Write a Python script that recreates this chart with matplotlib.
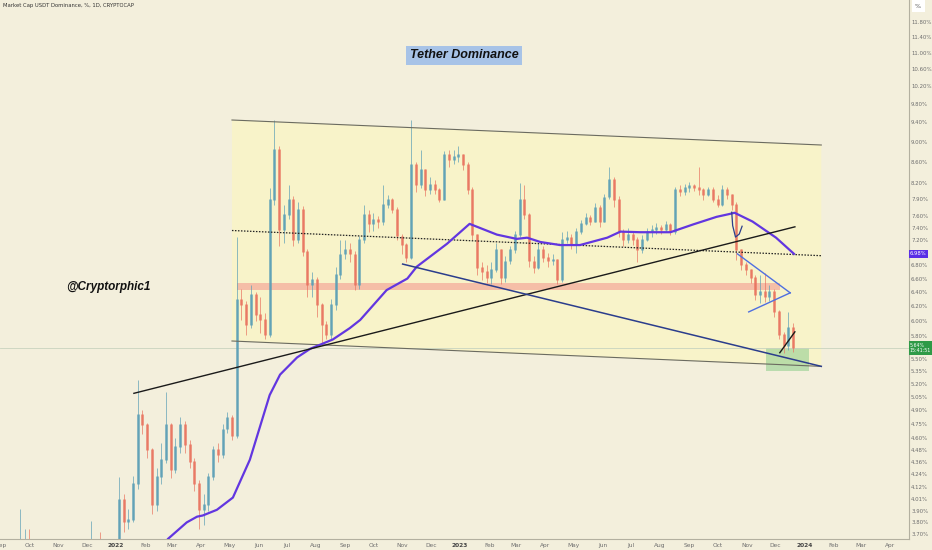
import matplotlib
matplotlib.use('Agg')
import matplotlib.pyplot as plt
import matplotlib.dates as mdates
from matplotlib.ticker import FixedLocator, NullLocator
import numpy as np
import pandas as pd

# 5-day candles of USDT dominance (%)
candle_start = '2021-09-01'
close = [
  3.45, 3.40, 3.38, 3.42, 3.55, 3.55, 3.50, 3.40, 3.30, 3.25, 3.22, 3.20, 3.18, 3.20, 3.22, 3.25, 3.28, 3.30, 3.45, 3.50, 3.45, 3.40, 3.38, 3.42, 3.55,
  4.00, 3.80, 3.82, 4.15, 4.85, 4.74, 4.48, 3.95, 4.21, 4.38, 4.74, 4.28, 4.51, 4.74, 4.53, 4.36, 4.15, 3.91, 3.95, 4.21, 4.48, 4.43, 4.69, 4.81, 4.62,
  6.29, 6.22, 5.94, 6.36, 6.08, 6.01, 5.81, 7.89, 8.83, 7.37, 7.63, 7.89, 7.21, 7.71, 7.01, 6.50, 6.58, 6.22, 5.94, 5.81, 6.22, 6.66, 6.97, 7.04, 6.97,
  6.50, 7.21, 7.63, 7.46, 7.54, 7.51, 7.80, 7.89, 7.71, 7.26, 7.12, 6.92, 8.54, 8.16, 8.44, 8.07, 8.16, 8.07, 7.89, 8.73, 8.63, 8.69, 8.73, 8.54, 8.07,
  7.29, 6.76, 6.70, 6.61, 6.73, 7.04, 6.61, 6.86, 7.04, 7.29, 7.89, 7.63, 6.86, 6.76, 7.04, 6.92, 6.86, 6.89, 6.58, 7.21, 7.24, 7.12, 7.34, 7.47, 7.57,
  7.51, 7.75, 7.51, 7.93, 8.25, 7.89, 7.34, 7.21, 7.29, 7.21, 7.04, 7.21, 7.33, 7.37, 7.40, 7.37, 7.46, 7.34, 8.07, 8.02, 8.11, 8.14, 8.11, 8.07, 7.98,
  8.07, 7.89, 7.80, 8.07, 7.98, 7.80, 7.04, 6.81, 6.73, 6.61, 6.36, 6.40, 6.33, 6.40, 6.12, 5.81, 5.66, 5.90, 5.64,
]
high = [
  3.55, 3.48, 3.45, 3.60, 3.92, 3.74, 3.74, 3.55, 3.44, 3.32, 3.30, 3.28, 3.26, 3.27, 3.30, 3.32, 3.35, 3.40, 3.60, 3.81, 3.60, 3.72, 3.50, 3.55, 3.62,
  4.21, 4.05, 3.92, 4.22, 5.25, 4.90, 4.76, 4.50, 4.30, 4.55, 5.10, 4.76, 4.60, 4.82, 4.78, 4.58, 4.40, 4.18, 4.05, 4.25, 4.52, 4.55, 4.75, 4.88, 4.85,
  7.25, 6.45, 6.28, 6.50, 6.40, 6.33, 6.10, 8.10, 9.45, 8.90, 7.80, 8.16, 7.95, 7.85, 7.78, 7.05, 6.70, 6.62, 6.25, 6.00, 6.30, 6.77, 7.21, 7.20, 7.15,
  7.02, 7.26, 7.80, 7.70, 7.65, 7.60, 8.16, 7.98, 7.92, 7.76, 7.30, 7.15, 9.45, 8.60, 8.83, 8.45, 8.30, 8.25, 8.10, 8.80, 8.83, 8.83, 8.91, 8.75, 8.60,
  8.12, 7.30, 6.85, 6.80, 6.85, 7.15, 7.05, 6.95, 7.10, 7.35, 8.20, 8.16, 7.65, 6.95, 7.15, 7.10, 7.00, 6.98, 6.90, 7.33, 7.35, 7.30, 7.40, 7.54, 7.66,
  7.62, 7.83, 7.80, 8.00, 8.50, 8.30, 7.95, 7.38, 7.40, 7.33, 7.25, 7.28, 7.40, 7.45, 7.48, 7.45, 7.52, 7.48, 8.12, 8.16, 8.18, 8.22, 8.18, 8.50, 8.10,
  8.12, 8.12, 7.98, 8.16, 8.12, 8.00, 7.85, 7.05, 6.85, 6.75, 6.65, 6.66, 6.69, 6.50, 6.45, 6.15, 5.85, 6.12, 5.97,
]
low = [
  3.38, 3.35, 3.32, 3.34, 3.38, 3.45, 3.42, 3.35, 3.26, 3.20, 3.18, 3.15, 3.14, 3.15, 3.17, 3.20, 3.22, 3.25, 3.27, 3.40, 3.40, 3.35, 3.33, 3.35, 3.38,
  3.52, 3.72, 3.74, 3.80, 4.10, 4.64, 4.40, 3.87, 3.90, 4.15, 4.35, 4.20, 4.25, 4.45, 4.45, 4.30, 4.08, 3.74, 3.78, 3.90, 4.18, 4.36, 4.40, 4.65, 4.58,
  4.60, 6.01, 5.81, 5.90, 6.00, 5.84, 5.75, 5.78, 7.80, 7.10, 7.15, 7.55, 7.10, 7.15, 6.94, 6.33, 6.33, 6.05, 5.71, 5.75, 5.75, 6.15, 6.60, 6.90, 6.85,
  6.43, 6.45, 7.15, 7.33, 7.35, 7.40, 7.45, 7.75, 7.65, 7.20, 6.97, 6.85, 6.90, 8.02, 8.10, 7.95, 8.00, 8.00, 7.85, 7.88, 8.50, 8.55, 8.60, 8.44, 8.00,
  7.20, 6.66, 6.58, 6.53, 6.52, 6.70, 6.52, 6.55, 6.82, 7.00, 7.25, 7.55, 6.78, 6.68, 6.75, 6.85, 6.78, 6.80, 6.52, 6.55, 7.15, 7.05, 7.00, 7.30, 7.45,
  7.45, 7.50, 7.42, 7.50, 7.90, 7.76, 7.25, 7.10, 7.15, 7.12, 6.85, 7.00, 7.18, 7.25, 7.30, 7.30, 7.33, 7.28, 7.30, 7.95, 7.98, 8.02, 8.05, 7.98, 7.89,
  7.95, 7.85, 7.76, 7.78, 7.90, 7.71, 6.89, 6.73, 6.66, 6.53, 6.29, 6.25, 6.26, 6.28, 6.05, 5.75, 5.58, 5.62, 5.59,
]

# moving average line
ma_dates = ['2022-02-17', '2022-02-25', '2022-03-17', '2022-03-28', '2022-04-03', '2022-04-18', '2022-05-05',
            '2022-05-23', '2022-06-13', '2022-06-24', '2022-07-12', '2022-07-26', '2022-08-19', '2022-09-06',
            '2022-09-17', '2022-10-15', '2022-11-06', '2022-11-16', '2022-12-18', '2023-01-11', '2023-02-09',
            '2023-03-02', '2023-03-13', '2023-03-27', '2023-04-17', '2023-05-08', '2023-06-06', '2023-06-20',
            '2023-07-11', '2023-08-12', '2023-09-05', '2023-09-30', '2023-10-14', '2023-10-19', '2023-11-07',
            '2023-12-02', '2023-12-21']
ma_values = [3.55, 3.66, 3.80, 3.85, 3.86, 3.91, 4.02,
             4.38, 5.07, 5.31, 5.52, 5.63, 5.75, 5.90,
             6.01, 6.43, 6.60, 6.78, 7.14, 7.47, 7.29,
             7.22, 7.24, 7.17, 7.12, 7.12, 7.24, 7.34,
             7.33, 7.33, 7.46, 7.59, 7.64, 7.66, 7.51,
             7.24, 6.98]

# drawings (date, value)
channel_dates = ['2022-05-04', '2024-01-19']
channel_top = [9.45, 8.93]
channel_bottom = [5.73, 5.41]
rising_dates = ['2022-01-20', '2023-12-22']
rising_values = [5.09, 7.42]
falling_dates = ['2022-11-01', '2024-01-19']
falling_values = [6.82, 5.41]
tri_upper_dates = ['2023-10-22', '2023-12-17']
tri_upper_values = [6.98, 6.39]
tri_lower_dates = ['2023-11-03', '2023-12-17']
tri_lower_values = [6.12, 6.39]
short_dates = ['2023-12-06', '2023-12-22']
short_values = [5.58, 5.85]
hook_dates = ['2023-10-16', '2023-10-17', '2023-10-20', '2023-10-24', '2023-10-27']
hook_values = [7.67, 7.44, 7.25, 7.30, 7.43]
band_dates = ['2022-05-09', '2023-12-06']
band_range = [6.43, 6.54]
box_dates = ['2023-11-21', '2024-01-06']
box_range = [5.35, 5.64]
last_price = 5.64

y_ticks = [11.80, 11.40, 11.00, 10.60, 10.20, 9.80, 9.40, 9.00, 8.60, 8.20, 7.90, 7.60, 7.40, 7.20,
           6.80, 6.60, 6.40, 6.20, 6.00, 5.80, 5.50, 5.35, 5.20, 5.05, 4.90, 4.75, 4.60, 4.48,
           4.36, 4.24, 4.12, 4.01, 3.90, 3.80, 3.70]

bg = '#f3efdc'
up_color = '#5b9fb6'
down_color = '#e9735f'


def d(values):
  return mdates.date2num(pd.to_datetime(values))


fig = plt.figure(figsize=(9.32, 5.5), dpi=100)
fig.patch.set_facecolor(bg)
ax = fig.add_axes([0, 11 / 550, 909 / 932, 539 / 550])
ax.set_facecolor(bg)
ax.set_yscale('log')
ax.set_ylim(3.66, 12.40)
ax.set_xlim(d(['2021-08-31'])[0], d(['2024-04-21'])[0])

# parallel channel
cx = d(channel_dates)
ax.fill([cx[0], cx[1], cx[1], cx[0]],
        [channel_top[0], channel_top[1], channel_bottom[1], channel_bottom[0]],
        color='#f8f3c9', lw=0, zorder=0)
ax.plot(cx, channel_top, color='#6b6b60', lw=0.8, zorder=3)
ax.plot(cx, channel_bottom, color='#6b6b60', lw=0.8, zorder=3)
channel_mid = np.sqrt(np.array(channel_top) * np.array(channel_bottom))
ax.plot(cx, channel_mid, color='#222222', lw=0.9, ls=(0, (1.2, 1.2)), zorder=3)

ax.fill_between(d(band_dates), band_range[0], band_range[1], color='#f4ad9c', alpha=0.75, lw=0, zorder=1)
ax.fill_between(d(box_dates), box_range[0], box_range[1], color='#a3d49b', alpha=0.7, lw=0, zorder=1)
ax.axhline(last_price, color='#c8d3bf', lw=0.6, zorder=1)

# candles
dates = mdates.date2num(pd.date_range(candle_start, periods=len(close), freq='5D'))
opens = [close[0]] + close[:-1]
for x, o, h, l, c in zip(dates, opens, high, low, close):
  color = up_color if c >= o else down_color
  ax.vlines(x, min(l, o, c), max(h, o, c), color=color, lw=0.6, alpha=0.8, zorder=2)
  ax.vlines(x, min(o, c), max(o, c) * 1.002, color=color, lw=1.9, alpha=0.85, zorder=2)

ax.plot(d(ma_dates), ma_values, color='#6236e0', lw=1.6, zorder=4)
ax.plot(d(rising_dates), rising_values, color='#1a1a1a', lw=1.0, zorder=4)
ax.plot(d(falling_dates), falling_values, color='#2b3d8c', lw=1.1, zorder=4)
ax.plot(d(tri_upper_dates), tri_upper_values, color='#4f6fe0', lw=1.0, zorder=4)
ax.plot(d(tri_lower_dates), tri_lower_values, color='#4f6fe0', lw=1.0, zorder=4)
ax.plot(d(short_dates), short_values, color='#1a1a1a', lw=1.0, zorder=4)
ax.plot(d(hook_dates), hook_values, color='#2b3d8c', lw=0.9, zorder=4)

# axes styling
for side in ['left', 'top']:
  ax.spines[side].set_visible(False)
for side in ['right', 'bottom']:
  ax.spines[side].set_color('#b3b0a0')
  ax.spines[side].set_linewidth(0.8)

ax.yaxis.set_ticks_position('right')
ax.yaxis.set_major_locator(FixedLocator(y_ticks))
ax.yaxis.set_minor_locator(NullLocator())
ax.set_yticklabels([f'{v:.2f}%' for v in y_ticks])
ax.tick_params(axis='y', length=0, pad=1.5, labelsize=3.9, labelcolor='#6e6e6e')

months = pd.date_range('2021-09-01', '2024-04-01', freq='MS')
ax.xaxis.set_major_locator(FixedLocator(mdates.date2num(months)))
ax.xaxis.set_minor_locator(NullLocator())
ax.set_xticklabels([str(m.year) if m.month == 1 else m.strftime('%b') for m in months])
ax.tick_params(axis='x', length=0, pad=3, labelsize=4.2, labelcolor='#6e6e6e')
for label, m in zip(ax.get_xticklabels(), months):
  if m.month == 1:
    label.set_fontweight('bold')
    label.set_color('#444444')

# price labels on the scale
ax.text(1.001, ma_values[-1], f'{ma_values[-1]:.2f}%', transform=ax.get_yaxis_transform(),
        fontsize=3.8, color='white', va='center', ha='left',
        bbox=dict(facecolor='#5a2ee6', edgecolor='none', pad=1.0), zorder=6, clip_on=False)
ax.text(1.001, last_price, f'{last_price:.2f}%\n15:41:51', transform=ax.get_yaxis_transform(),
        fontsize=3.4, color='white', va='center', ha='left', linespacing=1.1,
        bbox=dict(facecolor='#2f9a47', edgecolor='none', pad=1.0), zorder=6, clip_on=False)

fig.text(918 / 932, 1 - 6 / 550, '%', fontsize=4.5, color='#555555', ha='center', va='center',
         bbox=dict(facecolor='white', edgecolor='none', pad=2.5))
fig.text(3 / 932, 1 - 6 / 550, 'Market Cap USDT Dominance, %, 1D, CRYPTOCAP', fontsize=3.8,
         color='#333333', va='center', ha='left')
fig.text(464 / 932, 1 - 55 / 550, 'Tether Dominance', fontsize=9, fontweight='bold', style='italic',
         family='Liberation Sans', color='#111111', ha='center', va='center',
         bbox=dict(facecolor='#a7c3e7', edgecolor='none', pad=2.5))
fig.text(108 / 932, 1 - 287 / 550, '@Cryptorphic1', fontsize=8.5, fontweight='bold', style='italic',
         family='Liberation Sans', color='#111111', ha='center', va='center')

fig.savefig('out.png', dpi=100, facecolor=bg)
